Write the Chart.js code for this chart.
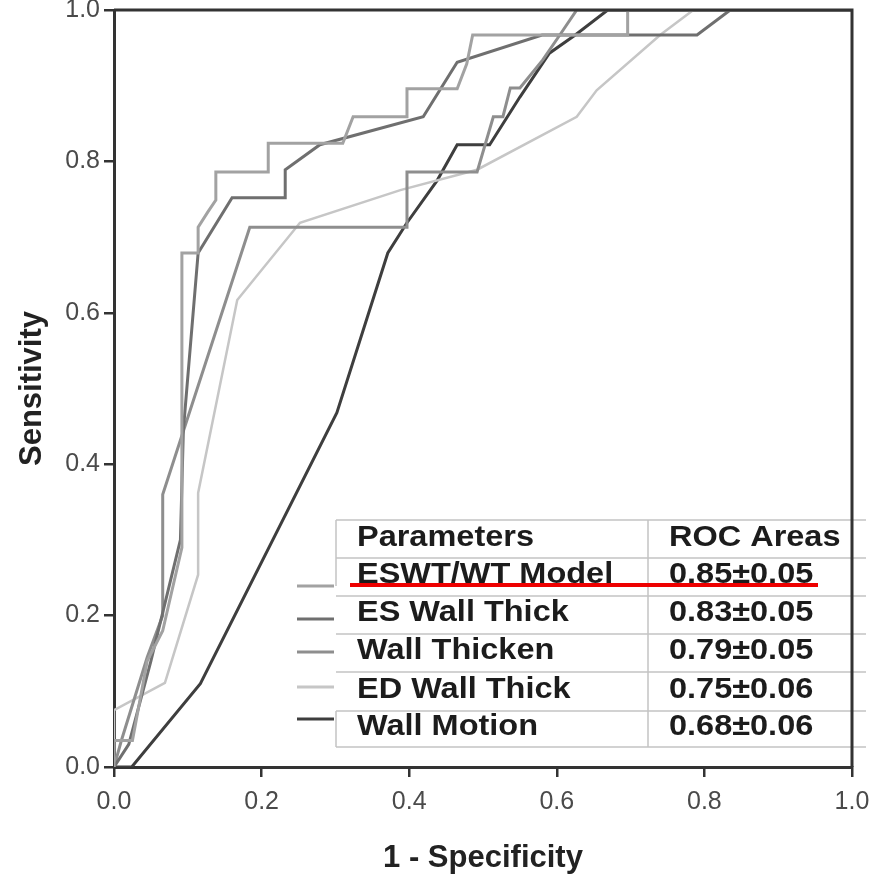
<!DOCTYPE html>
<html>
<head>
<meta charset="utf-8">
<script src="https://cdn.jsdelivr.net/npm/chart.js@4.4.1/dist/chart.umd.min.js"></script>
<style>
  body { margin: 0; background: #fff; }
  #wrap { width: 881px; height: 883px; }
</style>
</head>
<body>
<div id="wrap"><canvas id="rocChart" width="881" height="883"></canvas></div>
<script>
    // ROC curves (x = 1 - specificity, y = sensitivity)
    var eswtX = [0, 0, 0.025, 0.045, 0.066, 0.092, 0.092, 0.114, 0.114, 0.127, 0.138, 0.138, 0.209, 0.209, 0.31, 0.324, 0.397, 0.397, 0.465, 0.478, 0.486, 0.696, 0.696, 1];
    var eswtY = [0, 0.035, 0.035, 0.14, 0.18, 0.29, 0.679, 0.679, 0.713, 0.733, 0.749, 0.786, 0.786, 0.824, 0.824, 0.859, 0.859, 0.896, 0.896, 0.929, 0.967, 0.967, 1, 1];

    var esWallX = [0, 0.02, 0.05, 0.09, 0.094, 0.114, 0.16, 0.232, 0.232, 0.279, 0.419, 0.465, 0.58, 0.79, 0.835, 1];
    var esWallY = [0, 0.03, 0.14, 0.3, 0.445, 0.679, 0.752, 0.752, 0.789, 0.822, 0.859, 0.931, 0.967, 0.967, 1, 1];

    var thickenX = [0, 0.01, 0.045, 0.066, 0.066, 0.184, 0.397, 0.397, 0.492, 0.514, 0.527, 0.537, 0.55, 0.581, 0.602, 0.627, 1];
    var thickenY = [0, 0.035, 0.145, 0.2, 0.36, 0.713, 0.713, 0.786, 0.786, 0.859, 0.859, 0.897, 0.897, 0.934, 0.964, 1, 1];

    var edWallX = [0, 0, 0.069, 0.114, 0.114, 0.167, 0.252, 0.388, 0.492, 0.627, 0.654, 0.74, 0.785, 1];
    var edWallY = [0, 0.075, 0.111, 0.254, 0.362, 0.617, 0.719, 0.762, 0.789, 0.859, 0.894, 0.967, 1, 1];

    var motionX = [0, 0.024, 0.117, 0.302, 0.371, 0.397, 0.438, 0.465, 0.509, 0.55, 0.59, 0.625, 0.669, 1];
    var motionY = [0, 0, 0.11, 0.468, 0.679, 0.719, 0.775, 0.822, 0.822, 0.885, 0.943, 0.967, 1, 1];

    var parameters = ['ESWT/WT Model', 'ES Wall Thick', 'Wall Thicken', 'ED Wall Thick', 'Wall Motion'];
    var rocAreas = ['0.85\u00b10.05', '0.83\u00b10.05', '0.79\u00b10.05', '0.75\u00b10.06', '0.68\u00b10.06'];
    var lineColors = ['#a2a2a2', '#6f6f6f', '#8e8e8e', '#c6c6c6', '#3e3e3e'];
    var tickValues = [0, 0.2, 0.4, 0.6, 0.8, 1.0];

    function toPoints(xs, ys) {
        var pts = [];
        for (var i = 0; i < xs.length; i++) {
            pts.push({ x: xs[i], y: ys[i] });
        }
        return pts;
    }

    // table legend + frame, drawn over the curves
    var tablePlugin = {
        id: 'rocTable',
        afterDatasetsDraw: function(chart) {
            var ctx = chart.ctx;
            var left = 336, mid = 648, right = 866;
            var rows = [520, 558, 596, 634, 672, 711, 747];
            ctx.save();
            ctx.fillStyle = '#ffffff';
            ctx.fillRect(left, rows[0], right - left, rows[6] - rows[0]);

            ctx.strokeStyle = '#c4c4c4';
            ctx.lineWidth = 1.5;
            ctx.beginPath();
            for (var i = 0; i < rows.length; i++) {
                ctx.moveTo(left, rows[i]);
                ctx.lineTo(right, rows[i]);
            }
            ctx.moveTo(mid, rows[0]);
            ctx.lineTo(mid, rows[6]);
            ctx.moveTo(left, rows[0]);
            ctx.lineTo(left, 586);
            ctx.moveTo(left, rows[5]);
            ctx.lineTo(left, rows[6]);
            ctx.stroke();

            // legend samples
            var sampleY = [586, 619, 652, 687, 719];
            ctx.lineWidth = 3;
            for (var j = 0; j < parameters.length; j++) {
                ctx.strokeStyle = lineColors[j];
                ctx.beginPath();
                ctx.moveTo(297, sampleY[j]);
                ctx.lineTo(334, sampleY[j]);
                ctx.stroke();
            }

            ctx.fillStyle = '#1c1c1c';
            ctx.font = 'bold 29px "Liberation Sans", Arial, sans-serif';
            ctx.textBaseline = 'middle';
            function txt(s, x, y) {
                ctx.save();
                ctx.translate(x, y);
                ctx.scale(1.12, 1);
                ctx.fillText(s, 0, 0);
                ctx.restore();
            }
            txt('Parameters', 357, 538);
            txt('ROC Areas', 669, 538);
            for (var k = 0; k < parameters.length; k++) {
                var cy = (rows[k + 1] + rows[k + 2]) / 2 - 2;
                txt(parameters[k], 357, cy);
                txt(rocAreas[k], 669, cy);
            }

            // red underline
            ctx.strokeStyle = '#ee0000';
            ctx.lineWidth = 4;
            ctx.beginPath();
            ctx.moveTo(350, 585);
            ctx.lineTo(818, 585);
            ctx.stroke();
            ctx.restore();
        },
        afterDraw: function(chart) {
            var a = chart.chartArea;
            var ctx = chart.ctx;
            ctx.save();
            ctx.strokeStyle = '#333333';
            ctx.lineWidth = 3;
            ctx.beginPath();
            ctx.moveTo(a.left, a.top);
            ctx.lineTo(a.right, a.top);
            ctx.lineTo(a.right, a.bottom);
            ctx.stroke();
            ctx.restore();
        }
    };

    document.addEventListener('DOMContentLoaded', function() {
        var ctx = document.getElementById('rocChart').getContext('2d');
        var series = [
            [eswtX, eswtY, 3],
            [esWallX, esWallY, 3],
            [thickenX, thickenY, 3],
            [edWallX, edWallY, 2.5],
            [motionX, motionY, 3]
        ];
        var datasets = [];
        for (var i = 0; i < series.length; i++) {
            datasets.push({
                label: parameters[i],
                data: toPoints(series[i][0], series[i][1]),
                borderColor: lineColors[i],
                borderWidth: series[i][2],
                pointRadius: 0,
                tension: 0,
                fill: false
            });
        }

        var rocChart = new Chart(ctx, {
            type: 'line',
            data: { datasets: datasets },
            options: {
                responsive: false,
                animation: false,
                layout: { padding: { top: 10, right: 29, left: 0, bottom: 0 } },
                scales: {
                    x: {
                        type: 'linear',
                        min: 0,
                        max: 1,
                        afterFit: function(s) {
                            s.height = 116;
                            s.paddingLeft = 0;
                            s.paddingRight = 0;
                        },
                        afterBuildTicks: function(s) {
                            s.ticks = tickValues.map(function(v) { return { value: v }; });
                        },
                        grid: { drawOnChartArea: false, tickLength: 10, color: '#333', lineWidth: 2.5 },
                        border: { color: '#333', width: 3 },
                        ticks: {
                            padding: 10,
                            color: '#4a4a4a',
                            font: { family: '"Liberation Sans", Arial, sans-serif', size: 25 },
                            callback: function(v) { return v.toFixed(1); }
                        },
                        title: {
                            display: true,
                            text: '1 - Specificity',
                            color: '#222',
                            padding: { bottom: 6 },
                            font: { family: '"Liberation Sans", Arial, sans-serif', size: 31, weight: 'bold' }
                        }
                    },
                    y: {
                        type: 'linear',
                        min: 0,
                        max: 1,
                        afterFit: function(s) {
                            s.width = 114;
                            s.paddingTop = 0;
                            s.paddingBottom = 0;
                        },
                        afterBuildTicks: function(s) {
                            s.ticks = tickValues.map(function(v) { return { value: v }; });
                        },
                        grid: { drawOnChartArea: false, tickLength: 10, color: '#333', lineWidth: 2.5 },
                        border: { color: '#333', width: 3 },
                        ticks: {
                            padding: 4,
                            color: '#4a4a4a',
                            font: { family: '"Liberation Sans", Arial, sans-serif', size: 25 },
                            callback: function(v) { return v.toFixed(1); }
                        },
                        title: {
                            display: true,
                            text: 'Sensitivity',
                            color: '#222',
                            padding: { top: 14 },
                            font: { family: '"Liberation Sans", Arial, sans-serif', size: 31, weight: 'bold' }
                        }
                    }
                },
                plugins: {
                    legend: { display: false },
                    tooltip: { enabled: false }
                }
            },
            plugins: [tablePlugin]
        });
    });
</script>
</body>
</html>
